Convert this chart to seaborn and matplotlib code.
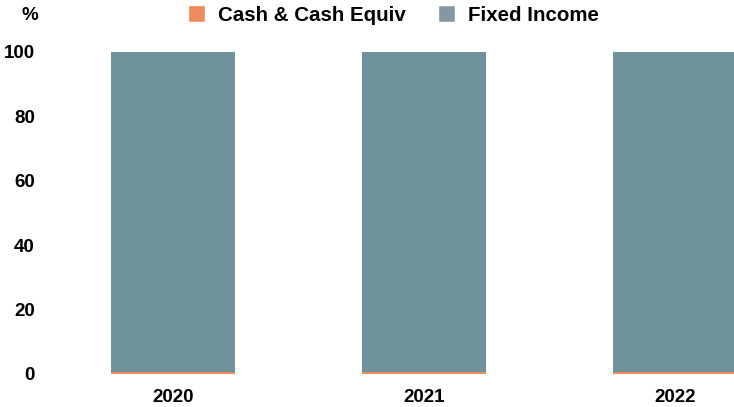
import matplotlib
matplotlib.use("Agg")
import matplotlib.pyplot as plt
import seaborn as sns
import pandas as pd
from matplotlib.patches import Patch

years = ["2020", "2021", "2022"]
cash = [0.6, 0.6, 0.6]
fixed_income = [99.4, 99.4, 99.4]
series_names = ["Cash & Cash Equiv", "Fixed Income"]
yticks = [0, 20, 40, 60, 80, 100]

sns.set_theme(style="white")
plt.rcParams["font.family"] = ["Liberation Sans", "DejaVu Sans"]
plt.rcParams["text.color"] = "black"

c_cash = "#ef8a5e"
c_fixed = "#6f9199"
c_fixed_leg = "#8497a2"

df = pd.DataFrame({"year": years, "cash": cash, "fixed": fixed_income})
df["total"] = df["cash"] + df["fixed"]

W, H = 734, 407
fig = plt.figure(figsize=(W / 100, H / 100), dpi=100)
left_px, top_px, bottom_px = 47.5, 52, 374
spacing = 251.0
ax = fig.add_axes([left_px / W, 1 - bottom_px / H, (W - left_px) / W, (bottom_px - top_px) / H])

sns.barplot(data=df, x="year", y="total", color=c_fixed, width=0.495, ax=ax,
            saturation=1, edgecolor="none")
sns.barplot(data=df, x="year", y="cash", color=c_cash, width=0.495, ax=ax,
            saturation=1, edgecolor="none")

ax.set_xlim(-0.5, -0.5 + (W - left_px) / spacing)
ax.set_ylim(0, 100)
ax.set_yticks(yticks)
ax.set_yticklabels([str(v) for v in yticks], fontsize=13.5, color="black", fontweight="bold")
ax.tick_params(axis="y", length=0, pad=9)
ax.tick_params(axis="x", length=0, pad=11, labelsize=13.5, labelcolor="black")
for lbl in ax.get_xticklabels():
    lbl.set_fontweight("bold")
ax.set_xlabel("")
ax.set_ylabel("")
for s in ax.spines.values():
    s.set_visible(False)

fig.text(30 / W, 1 - 15 / H, "%", ha="center", va="center", fontsize=13.5,
         color="black", fontweight="bold")

handles = [Patch(facecolor=c_cash, label=series_names[0]),
           Patch(facecolor=c_fixed_leg, label=series_names[1])]
leg = fig.legend(handles=handles, loc="center", bbox_to_anchor=(393.5 / W, 1 - 15 / H), ncol=2,
                 frameon=False, prop={"size": 14.8, "weight": "bold"},
                 handlelength=0.85, handleheight=0.85,
                 handletextpad=0.63, columnspacing=1.56)
for t in leg.get_texts():
    t.set_color("black")

fig.savefig("out.png", dpi=100)
